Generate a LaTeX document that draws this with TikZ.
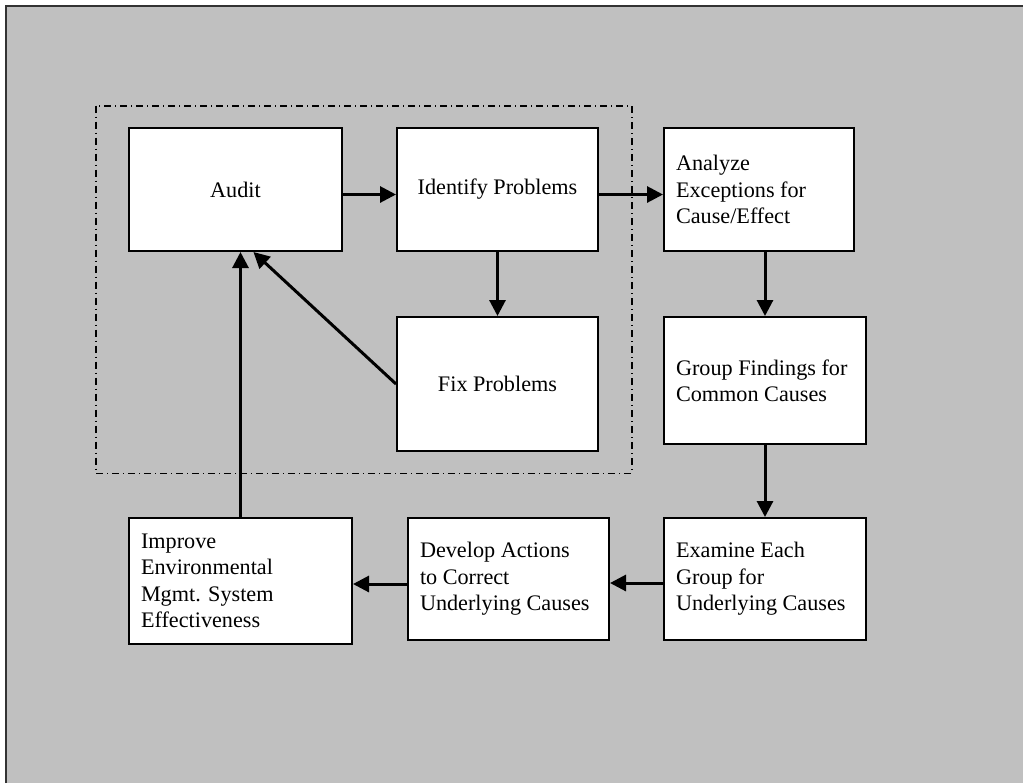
\documentclass[tikz,border=0pt]{standalone}
\usepackage{fontspec}
\setmainfont{Liberation Serif}
\usetikzlibrary{arrows.meta,calc}

\definecolor{panelgray}{HTML}{C0C0C0}

\begin{document}
\begin{tikzpicture}[x=0.5pt,y=-0.5pt,
        font=\fontsize{11.1}{13.2}\selectfont,
        stepbox/.style={draw, fill=white, line width=1pt, inner xsep=6pt, align=center},
        textbox/.style={stepbox, align=flush left},
        flow/.style={line width=1.5pt, -{Triangle[length=8pt,width=8pt]}}]
        \useasboundingbox (0,0) rectangle (1023,783);
        \fill[panelgray] (6,6) rectangle (1023,783);
        \draw[line width=1pt, black!80] (6,783)--(6,6)--(1023,6);

        % dash-dot frame round the audit loop
        \draw[line width=0.8pt, dash pattern=on 3.5pt off 2pt on 0.5pt off 2pt]
            (95.7,105.7) rectangle (631.7,473.3);

        \node [stepbox, minimum width=106.5pt, minimum height=61.5pt] (audit) at (235.5,189.5) {Audit};
        \node [stepbox, minimum width=100.5pt, minimum height=61.5pt] (ident) at (497.5,189.5) {Identify Problems};
        \node [stepbox, minimum width=100.5pt, minimum height=67pt] (fix) at (497.5,384) {Fix Problems};
        \node [textbox, text width=83pt, minimum height=61.5pt] (analyze) at (759,189.5)
            {Analyze\\Exceptions for\\Cause/Effect};
        \node [textbox, text width=89pt, minimum height=63.5pt] (group) at (765,380.5)
            {Group Findings for\\Common Causes};
        \node [textbox, text width=89pt, minimum height=61pt] (examine) at (765,579)
            {Examine Each\\Group for\\Underlying Causes};
        \node [textbox, text width=88.5pt, minimum height=61pt] (develop) at (508.5,579)
            {Develop Actions\\to Correct\\Underlying Causes};
        \node [textbox, text width=99.5pt, minimum height=63pt] (improve) at (240.5,581)
            {Improve\\Environmental\\Mgmt. System\\Effectiveness};

        \draw [flow] ($(audit.east)+(0,5)$) -- ($(ident.west)+(0,5)$);
        \draw [flow] ($(ident.east)+(0,5)$) -- ($(analyze.west)+(0,5)$);
        \draw [flow] (ident.south) -- (fix.north);
        \draw [flow] (fix.west) -- (audit.-74);
        \draw [flow] (analyze.south -| group.north) -- (group.north);
        \draw [flow] (group.south) -- (examine.north);
        \draw [flow] ($(examine.west)+(0,4)$) -- ($(develop.east)+(0,4)$);
        \draw [flow] ($(develop.west)+(0,5)$) -- ($(develop.west -| improve.east)+(0,5)$);
        \draw [flow] (improve.north) -- (improve.north |- audit.south);
\end{tikzpicture}
\end{document}
